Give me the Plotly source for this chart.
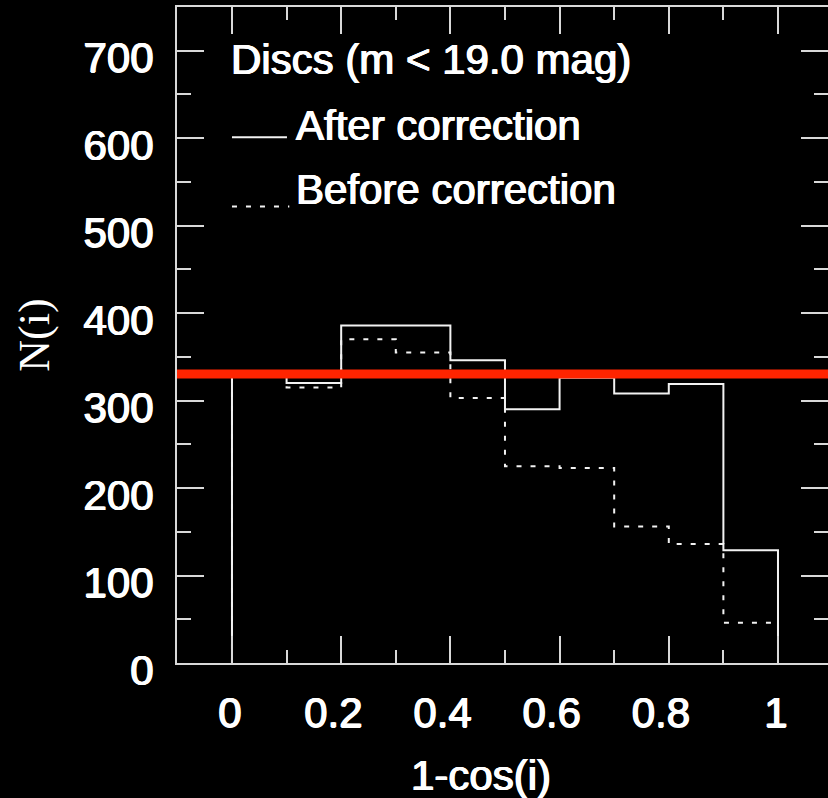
import plotly.graph_objects as go

# Data
bin_edges = [0.0, 0.1, 0.2, 0.3, 0.4, 0.5, 0.6, 0.7, 0.8, 0.9, 1.0]
after_correction = [331, 320, 386, 386, 346, 290, 326, 308, 319, 129]
before_correction = [327, 315, 370, 355, 303, 225, 223, 156, 136, 46]
mean_level = 330.5
x_tick_vals = [0, 0.2, 0.4, 0.6, 0.8, 1.0]
x_tick_text = ["0", "0.2\u00a0", "0.4\u00a0", "0.6\u00a0", "0.8\u00a0", "1"]
y_tick_vals = [0, 100, 200, 300, 400, 500, 600, 700]
y_tick_text = ["0", "100", "200", "300", "400", "500", "600", "700"]
x_title = "1-cos(i)"
y_title = "N(i)"
title_text = "Discs (m < 19.0 mag)"
legend_labels = ["After correction", "Before correction"]

AX = "#d9d9d9"
LN = "#f2f2f2"
FONT = "Liberation Sans"
FS = 42
SHADOW = "0.7px 0 0 #fff, -0.7px 0 0 #fff, 0 0.4px 0 #fff"


def tfont(size=FS):
    return dict(family=FONT, size=size, color="white", shadow=SHADOW)


def step_xy(edges, vals):
    xs = [edges[0]] + list(edges) + [edges[-1]]
    ys = [0] + list(vals) + [vals[-1], 0]
    return xs, ys


fig = go.Figure()

xb, yb = step_xy(bin_edges, before_correction)
fig.add_trace(go.Scatter(x=xb, y=yb, mode="lines", line_shape="hv",
                         line=dict(color=LN, width=2, dash="5px,9px"),
                         showlegend=False, hoverinfo="skip"))
xa, ya = step_xy(bin_edges, after_correction)
fig.add_trace(go.Scatter(x=xa, y=ya, mode="lines", line_shape="hv",
                         line=dict(color=LN, width=2),
                         showlegend=False, hoverinfo="skip"))

# Red reference line
fig.add_shape(type="line", xref="paper", yref="y", x0=0, x1=1,
              y0=mean_level, y1=mean_level,
              line=dict(color="#ff2400", width=9))

# Legend samples
fig.add_shape(type="line", xref="x", yref="y", x0=0.0, x1=0.1007, y0=601, y1=601,
              line=dict(color=LN, width=2))
fig.add_shape(type="line", xref="x", yref="y", x0=0.0, x1=0.105, y0=522, y1=522,
              line=dict(color=LN, width=2, dash="5px,9px"))

fig.add_annotation(x=-0.005, y=690, xref="x", yref="y", text=title_text,
                   showarrow=False, xanchor="left", yanchor="middle", font=tfont())
fig.add_annotation(x=0.114, y=614, xref="x", yref="y", text=legend_labels[0],
                   showarrow=False, xanchor="left", yanchor="middle", font=tfont())
fig.add_annotation(x=0.114, y=541, xref="x", yref="y", text=legend_labels[1],
                   showarrow=False, xanchor="left", yanchor="middle", font=tfont())

# x-axis title (placed as in the reference, left of the plot centre)
fig.add_annotation(x=0.467, y=-0.172, xref="paper", yref="paper", text=x_title,
                   showarrow=False, xanchor="center", yanchor="middle", font=tfont())

fig.update_layout(
    width=828, height=798,
    margin=dict(l=177, r=0, t=7, b=135, autoexpand=False),
    paper_bgcolor="black", plot_bgcolor="black",
    showlegend=False,
)

fig.update_xaxes(
    automargin=False,
    range=[-0.1007, 1.0916],
    tickmode="array", tickvals=x_tick_vals, ticktext=x_tick_text,
    ticks="inside", ticklen=27, tickwidth=2, tickcolor=AX,
    minor=dict(dtick=0.1, tick0=0, ticks="inside", ticklen=13, tickwidth=2, tickcolor=AX),
    showline=True, linecolor=AX, linewidth=2, mirror="ticks",
    showgrid=False, zeroline=False,
    tickfont=tfont(),
    ticklabelstandoff=12, ticklabelshift=-2,
)
fig.update_yaxes(
    automargin=False,
    range=[0, 750],
    tickmode="array", tickvals=y_tick_vals, ticktext=y_tick_text,
    ticks="inside", ticklen=27, tickwidth=2, tickcolor=AX,
    minor=dict(dtick=50, tick0=0, ticks="inside", ticklen=14, tickwidth=2, tickcolor=AX),
    showline=True, linecolor=AX, linewidth=2, mirror="ticks",
    showgrid=False, zeroline=False,
    tickfont=tfont(),
    ticklabelstandoff=13, ticklabelshift=7,
    title=dict(text=y_title, standoff=20,
               font=dict(family="Liberation Serif", size=44, color="white")),
)

fig.write_html(
    "out.html",
    config={"displayModeBar": False},
    post_script="document.body.style.margin='0';document.body.style.background='black';"
                "document.documentElement.style.background='black';",
)
